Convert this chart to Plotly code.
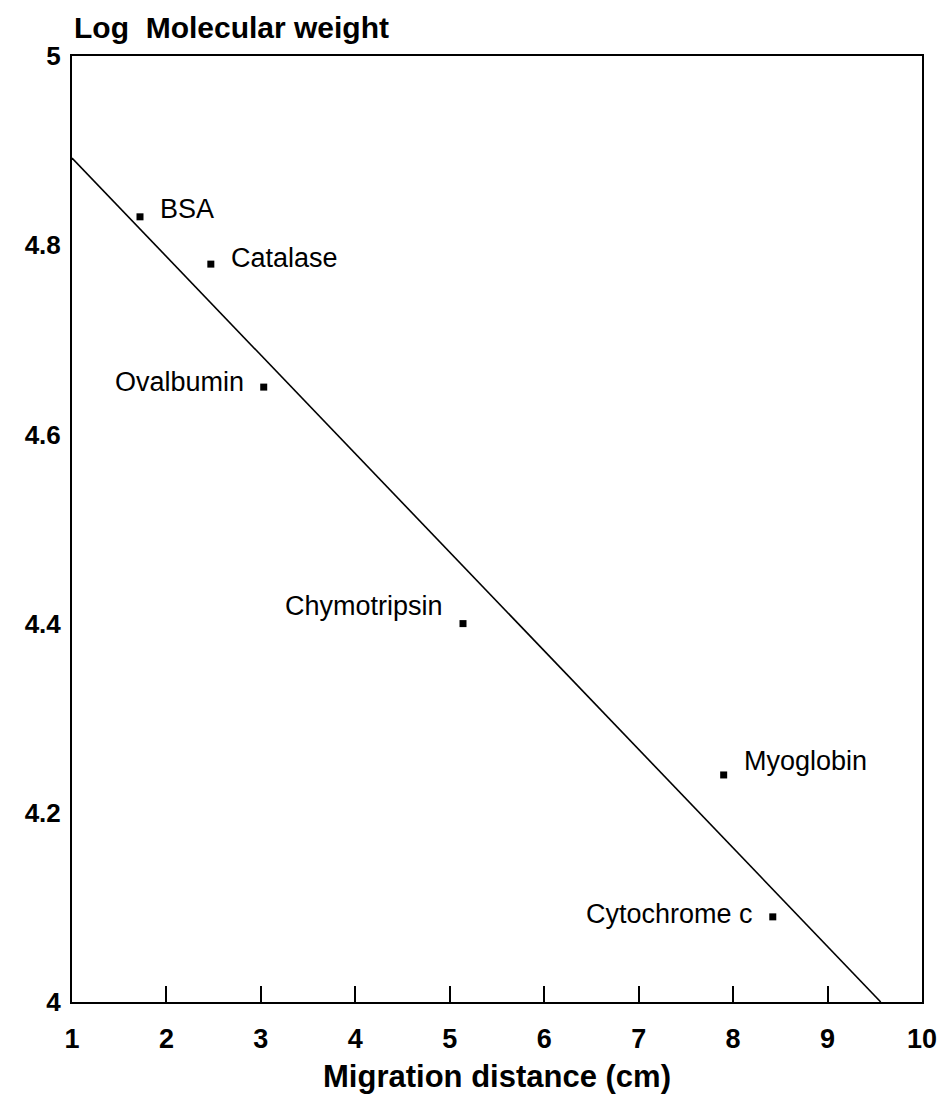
import numpy as np
import plotly.graph_objects as go

# Calibration proteins: migration distance (cm) and log molecular weight
proteins = ["BSA", "Catalase", "Ovalbumin", "Chymotripsin", "Myoglobin", "Cytochrome c"]
distance_cm = [1.72, 2.47, 3.03, 5.14, 7.90, 8.42]
log_mw = [4.83, 4.78, 4.65, 4.40, 4.24, 4.09]
label_side = ["right", "right", "left", "left", "right", "left"]
label_lift = [8, 6, 5, 18, 14, 3]

x_ticks = [1, 2, 3, 4, 5, 6, 7, 8, 9, 10]
y_ticks = [4, 4.2, 4.4, 4.6, 4.8, 5]

# Least-squares standard curve, drawn from x=1 down to the bottom of the axis
slope, intercept = np.polyfit(distance_cm, log_mw, 1)
x_end = (4.0 - intercept) / slope
line_x = [1.0, x_end]
line_y = [intercept + slope * 1.0, 4.0]

FONT = "Liberation Sans, Arial, sans-serif"

fig = go.Figure()
fig.add_trace(go.Scatter(
    x=line_x, y=line_y, mode="lines",
    line=dict(color="black", width=1.6),
    hoverinfo="skip", showlegend=False,
))
fig.add_trace(go.Scatter(
    x=distance_cm, y=log_mw, mode="markers",
    marker=dict(symbol="square", size=7, color="black"),
    showlegend=False,
))

for name, xv, yv, side, lift in zip(proteins, distance_cm, log_mw, label_side, label_lift):
    fig.add_annotation(
        x=xv, y=yv, text=name, showarrow=False,
        xanchor="left" if side == "right" else "right",
        xshift=18 if side == "right" else -18,
        yshift=lift,
        font=dict(family=FONT, size=27, color="black"),
    )

fig.add_annotation(
    x=0, y=1, xref="paper", yref="paper", xanchor="left", yanchor="bottom",
    yshift=10, showarrow=False,
    text="<b>Log\u00a0 Molecular weight</b>",
    font=dict(family=FONT, size=30, color="black"),
)

fig.update_layout(
    width=949, height=1106,
    margin=dict(l=72, r=24, t=56, b=104),
    paper_bgcolor="white", plot_bgcolor="white",
    font=dict(family=FONT, color="black"),
)
fig.update_xaxes(
    range=[1, 10], tickvals=x_ticks, ticktext=[f"<b>{v}</b>" for v in x_ticks],
    ticks="inside", ticklen=16, tickwidth=1.6, tickcolor="black",
    ticklabelstandoff=12,
    showgrid=False, zeroline=False,
    showline=True, linecolor="black", linewidth=2, mirror=True,
    tickfont=dict(family=FONT, size=27, color="black"),
    title=dict(text="<b>Migration distance (cm)</b>",
               font=dict(family=FONT, size=31, color="black"), standoff=12),
)
fig.update_yaxes(
    range=[4, 5], tickvals=y_ticks,
    ticktext=["<b>4</b>", "<b>4.2</b>", "<b>4.4</b>", "<b>4.6</b>", "<b>4.8</b>", "<b>5</b>"],
    ticks="", ticklabelstandoff=4, showgrid=False, zeroline=False,
    showline=True, linecolor="black", linewidth=2, mirror=True,
    tickfont=dict(family=FONT, size=26, color="black"),
)

fig.write_html("out.html")
